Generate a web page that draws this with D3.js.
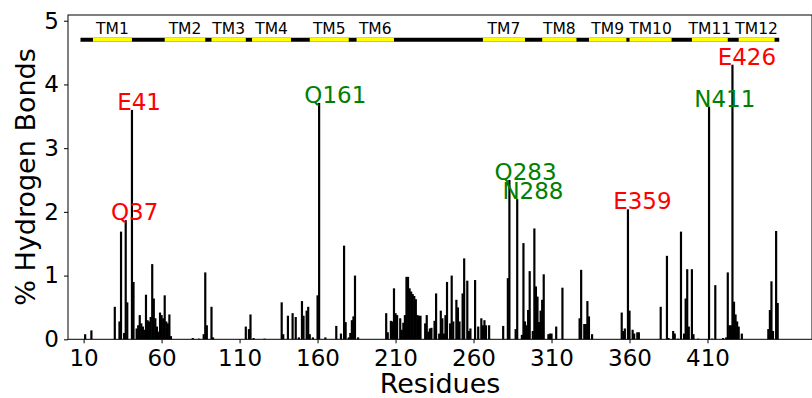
<!DOCTYPE html>
<html>
<head>
<meta charset="utf-8">
<script src="https://cdn.jsdelivr.net/npm/d3@7"></script>
<style>
  body { margin: 0; background: #fff; }
  text { font-family: "DejaVu Sans", sans-serif; }
</style>
</head>
<body>
<svg id="chart"></svg>
<script>
//hydrogen bond occupancy per residue
var residues = [11, 15, 30, 33, 34, 36, 37, 38, 41, 42, 44, 45, 46, 47, 48, 49, 50, 51, 52, 53, 54, 55, 56, 57, 58,
    59, 60, 61, 62, 63, 64, 65, 66, 80, 84, 87, 88, 89, 92, 93, 114, 116, 117, 119, 126,
    137, 138, 141, 144, 146, 148, 150, 151, 153, 154, 155, 157, 160, 161, 165, 172, 175, 177, 178, 180,
    181, 182, 183, 184, 186, 204, 205, 207, 208, 209, 210, 211, 213, 214, 215, 216, 217, 218, 219, 220,
    221, 222, 223, 224, 225, 226, 229, 230, 231, 232, 233, 235, 236, 238, 239, 240, 241, 242, 243, 245,
    246, 247, 249, 250, 251, 253, 254, 256, 257, 258, 261, 263, 265, 266, 267, 268, 270, 279, 282, 283,
    287, 288, 291, 292, 293, 294, 295, 296, 298, 299, 300, 301, 302, 303, 304, 305, 308, 309, 310, 313,
    317, 328, 329, 331, 332, 333, 334, 336, 355, 356, 357, 359, 360, 362, 363, 365, 366,
    380, 384, 385, 388, 389, 391, 393, 395, 396, 397, 398, 400, 401, 404, 411, 413, 415, 420, 422, 423,
    424, 425, 426, 427, 428, 429, 430, 432, 449, 450, 451, 452, 454, 455];
var hbonds = [0.08, 0.14, 0.51, 0.28, 1.69, 0.10, 1.87, 0.58, 3.60, 0.90, 0.17, 0.22, 0.38, 0.25, 0.20, 0.15, 0.70, 0.30, 0.28, 0.35, 1.18, 0.64, 0.33, 0.20, 0.12,
    0.42, 0.38, 0.33, 0.69, 0.28, 0.25, 0.39, 0.05, 0.02, 0.01, 0.08, 1.05, 0.22, 0.51, 0.03, 0.20, 0.16, 0.39, 0.02, 0.01,
    0.58, 0.08, 0.37, 0.41, 0.35, 0.03, 0.60, 0.37, 0.45, 0.51, 0.08, 0.03, 0.69, 3.71, 0.03, 0.21, 0.09, 1.47, 0.27, 0.03,
    0.10, 0.30, 0.36, 1.00, 0.03, 0.41, 0.11, 0.29, 0.28, 0.80, 0.41, 0.38, 0.33, 0.15, 0.26, 0.38, 0.98, 0.98, 0.80, 0.75,
    0.71, 0.68, 0.63, 0.38, 0.37, 0.37, 0.25, 0.38, 0.12, 0.17, 0.18, 0.29, 0.72, 0.09, 0.45, 0.33, 0.09, 0.38, 0.90, 0.25,
    1.00, 0.28, 0.62, 0.50, 0.28, 0.72, 1.27, 0.92, 0.13, 0.17, 0.93, 0.20, 0.33, 0.22, 0.30, 0.22, 0.22, 0.21, 0.96, 2.50,
    0.16, 2.20, 0.07, 1.51, 0.28, 0.22, 0.46, 1.07, 0.13, 1.74, 0.83, 0.67, 0.27, 0.45, 0.62, 1.02, 0.08, 0.09, 0.09, 0.20,
    0.81, 0.33, 1.09, 0.24, 0.24, 0.60, 0.36, 0.08, 0.42, 0.13, 0.17, 2.04, 0.45, 0.15, 0.09, 0.11, 0.11,
    0.51, 1.31, 0.02, 0.13, 0.09, 0.01, 1.69, 0.09, 0.64, 1.10, 0.20, 1.10, 0.08, 0.01, 3.65, 0.01, 0.85, 0.02, 0.03, 1.05,
    0.22, 0.22, 4.31, 0.59, 0.39, 0.28, 0.20, 0.09, 0.16, 0.46, 0.91, 0.13, 1.70, 0.57];

//transmembrane helices
var tmNames = ['TM1', 'TM2', 'TM3', 'TM4', 'TM5', 'TM6', 'TM7', 'TM8', 'TM9', 'TM10', 'TM11', 'TM12'];
var tmStart = [16, 62, 92, 118, 155, 185, 266, 304, 334, 360, 400, 430];
var tmEnd = [41, 88, 114, 143, 180, 209, 293, 326, 358, 387, 423, 453];
var seqRange = [8, 456];
var tmLevel = 4.7;

//highlighted residues and the group each one belongs to
var keyResidues = ['Q37', 'E41', 'Q161', 'Q283', 'N288', 'E359', 'N411', 'E426'];
var keyGroup = [1, 1, 2, 2, 2, 1, 2, 1];

//axis ticks
var xTicks = [10, 60, 110, 160, 210, 260, 310, 360, 410];
var yTicks = [0, 1, 2, 3, 4, 5];

function hbondChart() {
    var svg = d3.select('#chart')
        .attr('width', 812)
        .attr('height', 398);

    var x = d3.scaleLinear().domain([0, 477]).range([68, 812]);
    var y = d3.scaleLinear().domain([0, 5.09]).range([339.3, 15]);
    var groupColor = d3.scaleOrdinal().domain([1, 2]).range(['#ff0000', '#008000']);

    var data = residues.map((r, i) => ({res: r, val: hbonds[i]}));
    var barW = x(1.4) - x(0);

    //bars
    svg.append('g')
        .attr('class', 'bars')
        .selectAll('rect').data(data)
            .enter().append('rect')
                .attr('x', d => x(d.res) - barW / 2)
                .attr('y', d => y(d.val))
                .attr('width', barW)
                .attr('height', d => y(0) - y(d.val))
                .attr('fill', '#000');

    //TM topology strip
    var tm = svg.append('g').attr('class', 'tm');
    tm.append('line')
        .attr('x1', x(seqRange[0])).attr('x2', x(seqRange[1]))
        .attr('y1', y(tmLevel)).attr('y2', y(tmLevel))
        .attr('stroke', '#000')
        .attr('stroke-width', 4);
    tm.selectAll('.seg').data(tmNames)
        .enter().append('line')
            .attr('class', 'seg')
            .attr('x1', (d, i) => x(tmStart[i])).attr('x2', (d, i) => x(tmEnd[i]))
            .attr('y1', y(tmLevel)).attr('y2', y(tmLevel))
            .attr('stroke', '#ffff00')
            .attr('stroke-width', 4);
    tm.selectAll('text').data(tmNames)
        .enter().append('text')
            .attr('x', (d, i) => x((tmStart[i] + tmEnd[i]) / 2))
            .attr('y', y(tmLevel + 0.09))
            .attr('text-anchor', 'middle')
            .style('font-size', '15.5px')
            .text(d => d);

    //residue labels, anchored at the top of their bar
    svg.append('g')
        .attr('class', 'labels')
        .selectAll('text').data(keyResidues)
            .enter().append('text')
                .attr('x', d => x(+d.slice(1) - 9.5))
                .attr('y', d => y(hbonds[residues.indexOf(+d.slice(1))]))
                .attr('fill', (d, i) => groupColor(keyGroup[i]))
                .style('font-size', '23px')
                .text(d => d);

    //axes
    var xAxis = svg.append('g')
        .attr('transform', 'translate(0,' + y(0) + ')')
        .call(d3.axisBottom(x).tickValues(xTicks).tickSize(4).tickSizeOuter(0).tickPadding(6));
    var yAxis = svg.append('g')
        .attr('transform', 'translate(' + x(0) + ',0)')
        .call(d3.axisLeft(y).tickValues(yTicks).tickFormat(d3.format('d'))
            .tickSize(4).tickSizeOuter(0).tickPadding(5));
    [xAxis, yAxis].forEach(a => {
        a.select('.domain').remove();
        a.selectAll('text')
            .style('font-size', '23px')
            .style('font-family', '"DejaVu Sans", sans-serif')
            .attr('fill', '#000');
        a.selectAll('line').attr('stroke', '#000');
    });

    //frame
    svg.append('rect')
        .attr('x', x(0)).attr('y', y(5.09))
        .attr('width', x(477) - x(0))
        .attr('height', y(0) - y(5.09))
        .attr('fill', 'none')
        .attr('stroke', '#000')
        .attr('stroke-width', 1);

    //axis titles
    svg.append('text')
        .attr('x', (x(0) + x(477)) / 2)
        .attr('y', 393)
        .attr('text-anchor', 'middle')
        .style('font-size', '27px')
        .text('Residues');
    svg.append('text')
        .attr('transform', 'translate(35,177) rotate(-90)')
        .attr('text-anchor', 'middle')
        .style('font-size', '27px')
        .text('% Hydrogen Bonds');
}

hbondChart();
</script>
</body>
</html>
